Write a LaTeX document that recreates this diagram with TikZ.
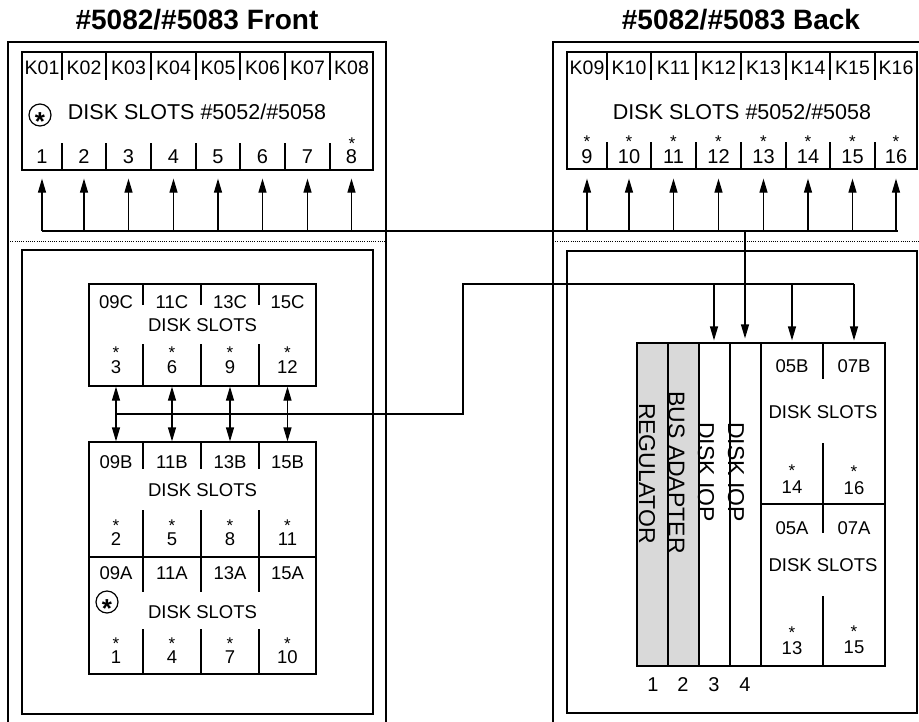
\documentclass[tikz,border=0pt]{standalone}
\usepackage{fontspec}
\setmainfont{Liberation Sans}
\usetikzlibrary{arrows.meta}

% asterisk with a box tight round its ink
\newcommand\astk{\raisebox{-0.44em}[0.28em][0pt]{*}}

\tikzset{
  wire/.style={line width=1.2pt},
  dots/.style={line width=0.9pt, dash pattern=on 1pt off 1.2pt},
  tip/.style={wire, -{Triangle[length=14pt,width=8pt]}},
  tips/.style={wire, {Triangle[length=14pt,width=8pt]}-{Triangle[length=14pt,width=8pt]}},
  txt/.style={inner sep=0pt},
  ttl/.style={txt, font=\fontsize{28}{30}\selectfont\bfseries},
  klbl/.style={txt, font=\fontsize{19.5}{20}\selectfont},
  nlbl/.style={txt, font=\fontsize{20}{20}\selectfont},
  wide/.style={txt, font=\fontsize{21.5}{22}\selectfont},
  slbl/.style={txt, font=\fontsize{18.5}{19}\selectfont},
  astr/.style={txt, font=\fontsize{17}{17}\selectfont},
  bigast/.style={txt, font=\fontsize{26}{26}\selectfont\bfseries},
  vlbl/.style={txt, rotate=-90, font=\fontsize{23}{23}\selectfont},
  ring/.style={draw, wire, circle, inner sep=0pt, minimum size=22pt},
  shelf/.style={draw, wire, rectangle, inner sep=0pt},
}

\begin{document}
\begin{tikzpicture}[x=1pt,y=-1pt]
\useasboundingbox (0,0) rectangle (919,721);
\clip (0,0) rectangle (919,721);
% titles
\node[ttl] (tfront) at (197,20) {\#5082/\#5083 Front};
\node[ttl] (tback) at (741,20) {\#5082/\#5083 Back};
% cabinets
\draw[wire] (8,730) -- (8,42) -- (386,42) -- (386,730);
\draw[wire] (553,730) -- (553,42) -- (930,42);
\draw[dots] (8,241) -- (386,241) (553,241) -- (919,241);
\draw[wire] (22,250) rectangle (373,714);
\draw[wire] (567,251) rectangle (917,713);
\coordinate (busL) at (42,231);
\coordinate (busR) at (898,231);
\draw[wire] (busL) -- (busR);
% front disk slots
\node[shelf, minimum width=351pt, minimum height=118pt] (kfb) at (197.5,111) {};
\foreach \xa/\xb/\nm [count=\i] in {22/62/K01,62/106/K02,106/151/K03,151/196/K04,
    196/240/K05,240/285/K06,285/330/K07,330/373/K08}{
  \node[klbl] (kf\i) at ({(\xa+\xb)/2},68) {\nm};
  \node[nlbl] (nf\i) at ({(\xa+\xb)/2},157) {\i};
  \ifnum\i<8 \draw[wire] (\xb,52) -- (\xb,80) (\xb,143) -- (\xb,170);\fi
  \draw[tip, shorten >=8pt] (nf\i |- busL) -- (nf\i |- kfb.south);
}
\node[wide] (dsf) at (197,112) {DISK SLOTS \#5052/\#5058};
\node[ring] (rgf) at (40,115) {};
\node[bigast] (rsf) at (rgf) {\astk};
\node[astr] (sf8) at (352,140) {\astk};
% back disk slots
\node[shelf, minimum width=350pt, minimum height=117pt] (kbb) at (742,110.5) {};
\foreach \xa/\xb/\nm/\n [count=\i] in {567/607/K09/9,607/651/K10/10,651/696/K11/11,
    696/741/K12/12,741/786/K13/13,786/830/K14/14,830/875/K15/15,875/917/K16/16}{
  \node[klbl] (kb\i) at ({(\xa+\xb)/2},68) {\nm};
  \node[astr] (sb\i) at ({(\xa+\xb)/2},138) {\astk};
  \node[nlbl] (nb\i) at ({(\xa+\xb)/2},157) {\n};
  \ifnum\i<8 \draw[wire] (\xb,52) -- (\xb,80) (\xb,142) -- (\xb,169);\fi
  \draw[tip, shorten >=9pt] (nb\i |- busL) -- (nb\i |- kbb.south);
}
\node[wide] (dsb) at (742,112) {DISK SLOTS \#5052/\#5058};
% front lower slots, row C
\node[shelf, minimum width=227pt, minimum height=102pt] (cbx) at (202.5,335) {};
\foreach \xa/\xb/\lb/\nb [count=\i] in {89/143/09C/3,143/201/11C/6,201/259/13C/9,259/316/15C/12}{
  \node[slbl] (lc\i) at ({(\xa+\xb)/2},302) {\lb};
  \node[astr] (sc\i) at ({(\xa+\xb)/2},349) {\astk};
  \node[slbl] (nc\i) at ({(\xa+\xb)/2},367) {\nb};
  \ifnum\i<4 \draw[wire] (\xb,284) -- (\xb,305) (\xb,344) -- (\xb,386);\fi
}
\node[slbl] (dsc) at (202.5,325) {DISK SLOTS};
% front lower slots, rows B and A
\node[shelf, minimum width=227pt, minimum height=232pt] (bbx) at (202.5,558) {};
\draw[wire] (89,557) -- (316,557);
\foreach \xa/\xb/\lb/\nb [count=\i] in {89/143/09B/2,143/201/11B/5,201/259/13B/8,259/316/15B/11}{
  \node[slbl] (lb\i) at ({(\xa+\xb)/2},462) {\lb};
  \node[astr] (sbr\i) at ({(\xa+\xb)/2},522) {\astk};
  \node[slbl] (nbr\i) at ({(\xa+\xb)/2},539) {\nb};
  \ifnum\i<4 \draw[wire] (\xb,442) -- (\xb,469) (\xb,510) -- (\xb,557);\fi
}
\node[slbl] (dsbr) at (202.5,490) {DISK SLOTS};
\foreach \xa/\xb/\lb/\nb [count=\i] in {89/143/09A/1,143/201/11A/4,201/259/13A/7,259/316/15A/10}{
  \node[slbl] (la\i) at ({(\xa+\xb)/2},573) {\lb};
  \node[astr] (sa\i) at ({(\xa+\xb)/2},640) {\astk};
  \node[slbl] (na\i) at ({(\xa+\xb)/2},657) {\nb};
  \ifnum\i<4 \draw[wire] (\xb,557) -- (\xb,592) (\xb,629) -- (\xb,674);\fi
}
\node[slbl] (dsa) at (202.5,612) {DISK SLOTS};
\node[ring] (rga) at (107,602) {};
\node[bigast] (rsa) at (rga) {\astk};
% C row to B row
\foreach \i in {1,...,4}{
  \draw[tips] (nc\i |- cbx.south) -- (nc\i |- bbx.north);
}
% back module
\fill[black!15] (637,343) rectangle (699,666);
\node[shelf, minimum width=248pt, minimum height=323pt] (mod) at (761,504.5) {};
\draw[wire] (668,343) -- (668,666) (699,343) -- (699,666)
  (730,343) -- (730,666) (761,343) -- (761,666);
\draw[wire] (761,504) -- (885,504);
\draw[wire] (823,343) -- (823,379) (823,443) -- (823,533) (823,596) -- (823,666);
\node[vlbl] (reg) at (647,473.5) {REGULATOR};
\node[vlbl] (badp) at (676.5,472.5) {BUS ADAPTER};
\node[vlbl] (iop3) at (706,472) {DISK IOP};
\node[vlbl] (iop4) at (736,472) {DISK IOP};
\node[slbl] (l05b) at (792,366) {05B};
\node[slbl] (l07b) at (854,366) {07B};
\node[slbl] (dsr1) at (823,412) {DISK SLOTS};
\node[astr] (s14) at (792,467) {\astk};
\node[astr] (s16) at (854,468) {\astk};
\node[slbl] (n14) at (792,487) {14};
\node[slbl] (n16) at (854,488) {16};
\node[slbl] (l05a) at (792,528) {05A};
\node[slbl] (l07a) at (854,528) {07A};
\node[slbl] (dsr2) at (823,565) {DISK SLOTS};
\node[astr] (s13) at (792,629) {\astk};
\node[astr] (s15) at (854,628) {\astk};
\node[slbl] (n13) at (792,648) {13};
\node[slbl] (n15) at (854,647) {15};
\foreach \xp [count=\i] in {653,683,714,745}{
  \node[nlbl] (pos\i) at (\xp,685) {\i};
}
% cables to the module
\coordinate (lnkA) at (463,414);
\coordinate (lnkB) at (463,284);
\draw[wire] (nc1 |- lnkA) -- (lnkA) -- (lnkB) -- (l07b |- lnkB);
\draw[tip, shorten >=2pt] (pos3 |- lnkB) -- (pos3 |- mod.north);
\draw[tip, shorten >=2pt] (l05b |- lnkB) -- (l05b |- mod.north);
\draw[tip, shorten >=2pt] (l07b |- lnkB) -- (l07b |- mod.north);
\draw[tip, shorten >=4pt] (pos4 |- busL) -- (pos4 |- mod.north);
\end{tikzpicture}
\end{document}
